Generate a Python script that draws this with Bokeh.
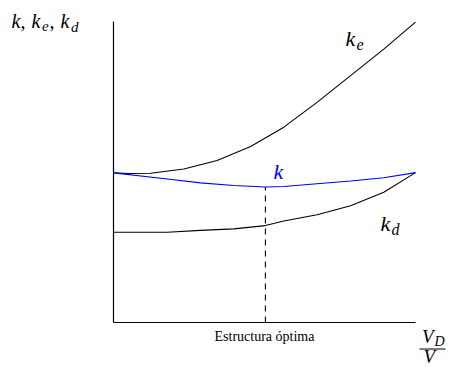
from bokeh.plotting import figure
from bokeh.models import Range1d, Label
from bokeh.embed import file_html
from bokeh.resources import INLINE

# ---- data ----
x_e = [0.0, 0.05, 0.123, 0.233, 0.343, 0.454, 0.564, 0.675, 0.785, 0.895, 1.0]
k_e = [0.497, 0.495, 0.496, 0.510, 0.538, 0.585, 0.649, 0.732, 0.820, 0.908, 0.998]

x_k = [0.0, 0.178, 0.288, 0.398, 0.503, 0.564, 0.674, 0.785, 0.895, 1.0]
k_tot = [0.497, 0.477, 0.464, 0.455, 0.450, 0.452, 0.461, 0.470, 0.481, 0.498]

x_d = [0.0, 0.178, 0.288, 0.398, 0.503, 0.564, 0.674, 0.785, 0.895, 1.0]
k_d = [0.300, 0.300, 0.306, 0.311, 0.322, 0.337, 0.358, 0.388, 0.433, 0.498]

x_opt = [0.503]
k_opt = [0.450]
opt_label = "Estructura óptima"

# axis extents (data units)
X_MIN, X_MAX = 0.0, 1.0
Y_MIN, Y_MAX = 0.0, 1.0

W, H = 454, 367
# pixel placement of the data box inside the canvas
LEFT, RIGHT, TOP, BOTTOM = 113, 415, 21, 322
sx = (RIGHT - LEFT) / (X_MAX - X_MIN)
sy = (BOTTOM - TOP) / (Y_MAX - Y_MIN)

p = figure(width=W, height=H, output_backend="svg", toolbar_location=None,
           x_range=Range1d(X_MIN - LEFT / sx, X_MIN + (W - LEFT) / sx),
           y_range=Range1d(Y_MIN - (H - BOTTOM) / sy, Y_MIN + BOTTOM / sy),
           min_border=0, min_border_left=0, min_border_right=0,
           min_border_top=0, min_border_bottom=0)
p.axis.visible = False
p.grid.visible = False
p.outline_line_color = None
p.background_fill_color = "white"
p.border_fill_color = "white"

# axes lines
p.segment(x0=[X_MIN, X_MIN], y0=[Y_MIN, Y_MIN], x1=[X_MIN, X_MAX], y1=[Y_MAX, Y_MIN],
          line_color="black", line_width=1.2)

p.line(x_e, k_e, line_color="black", line_width=1.1)
p.line(x_k, k_tot, line_color="#0000ff", line_width=1.1)
p.line(x_d, k_d, line_color="black", line_width=1.1)
p.segment(x0=x_opt, y0=[Y_MIN], x1=x_opt, y1=k_opt, line_color="black",
          line_width=1.1, line_dash="6 5")

FONT = "Liberation Serif"

def px2d(px, py):
    return X_MIN + (px - LEFT) / sx, Y_MIN + (BOTTOM - py) / sy

def lab(text, px, py, size, color="black", style="italic", align="left"):
    # py is the wanted glyph baseline; compensate the renderer's offset
    x, y = px2d(px, py - 0.3 * size)
    p.add_layout(Label(x=x, y=y, text=text, text_font=FONT,
                       text_font_size=f"{size}px", text_font_style=style,
                       text_color=color, text_align=align,
                       text_baseline="alphabetic"))

# y axis title: k, k_e, k_d
lab("k,", 11, 26.5, 20)
lab("k", 31, 26.5, 20)
lab("e", 41.5, 29.5, 15)
lab(",", 49, 26.5, 20)
lab("k", 60, 26.5, 20)
lab("d", 70.5, 31, 15)

# curve labels
lab("k", 345, 45, 22)
lab("e", 356, 48.5, 16)
lab("k", 273, 178, 22, color="#0000ff")
lab("k", 380, 230, 22)
lab("d", 391, 234, 16)

# optimum label
lab(opt_label, 264, 340, 14, style="normal", align="center")

# x axis label V_D / V
lab("V", 421.5, 342, 19)
lab("D", 434, 345, 14)
bx0, by = px2d(419, 348.5)
bx1, _ = px2d(445, 348.5)
p.segment(x0=[bx0], y0=[by], x1=[bx1], y1=[by], line_color="black", line_width=1.1)
lab("V", 423, 362, 19)

open("out.html", "w").write(file_html(p, INLINE))
